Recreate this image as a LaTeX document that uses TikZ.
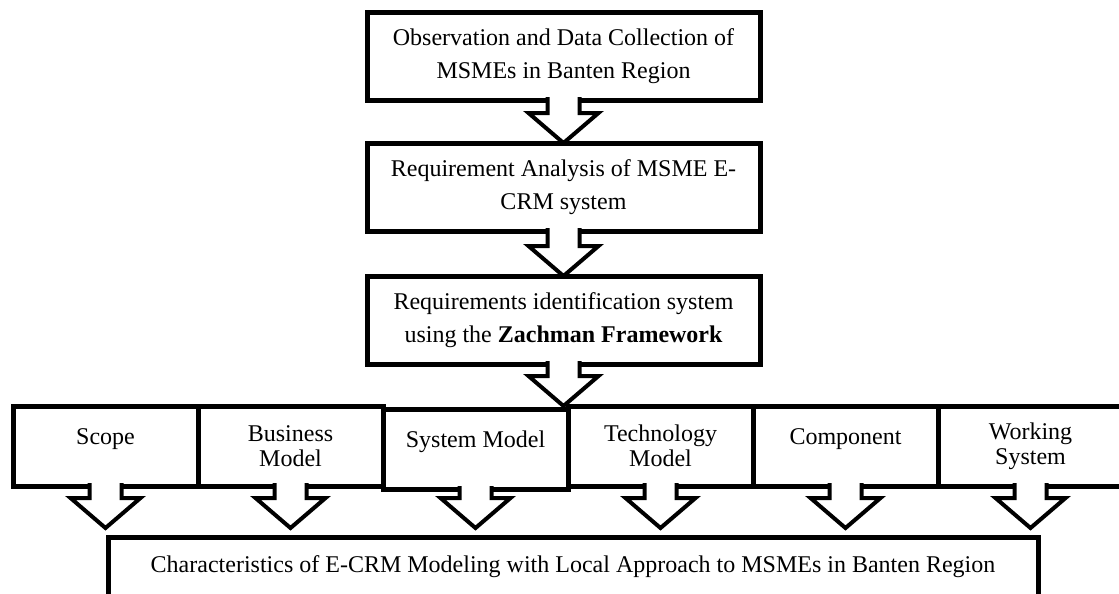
\documentclass[tikz,border=0pt]{standalone}
\usepackage{fontspec}
\setmainfont{Liberation Serif}
\usetikzlibrary{positioning,calc}

\newcommand{\hollowarrow}[2]{%
  \path (#1) coordinate (arrtop) (#2) coordinate (arrtip);
  \fill[white] ($(arrtop)+(-16,-3)$) |- ($(arrtip)+(-35,-30)$) -- (arrtip)
    -- ($(arrtip)+(35,-30)$) -| ($(arrtop)+(16,-3)$) -- cycle;
  \draw[arrowline] ($(arrtop)+(-16,-3)$) |- ($(arrtip)+(-35,-30)$) -- (arrtip)
    -- ($(arrtip)+(35,-30)$) -| ($(arrtop)+(16,-3)$);}

\begin{document}
\begin{tikzpicture}[x=0.5pt,y=-0.5pt,
    stage/.style={draw, rectangle, line width=2.5pt, outer sep=0pt,
      minimum width=196.5pt, minimum height=44pt, align=center,
      font=\fontsize{12}{16.5}\selectfont},
    cell/.style={draw, rectangle, line width=2.5pt, outer sep=0pt,
      minimum width=92.5pt, minimum height=40pt, align=center,
      font=\fontsize{12}{12.5}\selectfont},
    oneline/.style={cell, text depth=9.5pt},
    arrowline/.style={line width=2pt, miter limit=10}]
    \useasboundingbox (0,0) rectangle (1119,594);
    \clip (0,0) rectangle (1119,594);
    \node[stage] (obs) at (563.5,56) {Observation and Data Collection of\\MSMEs in Banten Region};
    \node[stage, below=21.5pt of obs] (req) {Requirement Analysis of MSME E-\\CRM system};
    \node[stage, below=22.5pt of req] (zach) {Requirements identification system\\using the \textbf{Zachman Framework}};
    \node[oneline] (scope) at (105.5,446) {Scope};
    \node[cell, right=0pt of scope] (business) {Business\\Model};
    \node[oneline, right=0pt of business, yshift=-1.5pt] (sysmodel) {System Model};
    \node[cell, right=0pt of sysmodel, yshift=1.5pt] (techmodel) {Technology\\Model};
    \node[oneline, right=0pt of techmodel] (component) {Component};
    \node[cell, right=0pt of component] (working) {Working\\System};
    \node[stage, minimum width=465pt, minimum height=30pt] (result) at (573,567)
        {Characteristics of E-CRM Modeling with Local Approach to MSMEs in Banten Region};
    \hollowarrow{obs.south}{req.north}
    \hollowarrow{req.south}{zach.north}
    \hollowarrow{zach.south}{zach.south |- techmodel.north}
    \foreach \n in {scope,business,sysmodel,techmodel,component,working}
        {\hollowarrow{\n.south}{$(\n.south |- result.north)+(0,-9)$}}
\end{tikzpicture}
\end{document}
